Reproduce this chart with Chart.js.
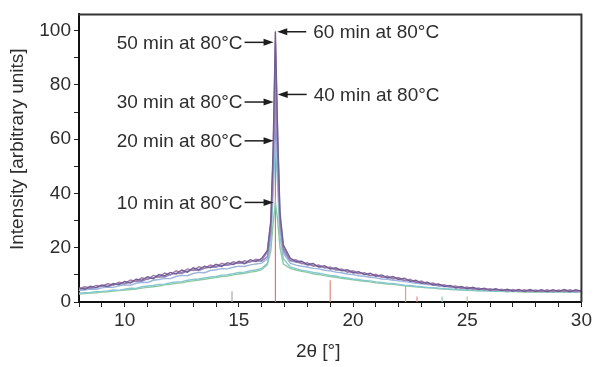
<!DOCTYPE html>
<html>
<head>
<meta charset="utf-8">
<script src="https://cdn.jsdelivr.net/npm/chart.js@4"></script>
<style>
  html, body { margin: 0; padding: 0; background: #fff; }
  #wrap { width: 594px; height: 367px; position: relative; }
</style>
</head>
<body>
<div id="wrap"><canvas id="xrd"></canvas></div>
<script>
// 2-theta grid (deg)
const twoTheta = [
  8.00, 8.25, 8.50, 8.75, 9.00, 9.25, 9.50, 9.75, 10.00, 10.25, 10.50, 10.75, 11.00, 11.25, 11.50, 11.75,
  12.00, 12.25, 12.50, 12.75, 13.00, 13.25, 13.50, 13.75, 14.00, 14.25, 14.50, 14.75, 15.00, 15.25, 15.50, 15.75,
  16.00, 16.25,
  16.40, 16.50, 16.60, 16.70, 16.80, 16.95,
  17.25, 17.50, 17.75, 18.00, 18.25, 18.50, 18.75, 19.00, 19.25, 19.50, 19.75, 20.00, 20.25, 20.50, 20.75, 21.00,
  21.25, 21.50, 21.75, 22.00, 22.25, 22.50, 22.75, 23.00, 23.25, 23.50, 23.75, 24.00, 24.25, 24.50, 24.75, 25.00,
  25.25, 25.50, 25.75, 26.00, 26.25, 26.50, 26.75, 27.00, 27.25, 27.50, 27.75, 28.00, 28.25, 28.50, 28.75, 29.00,
  29.25, 29.50, 29.75, 30.00
];

const min10 = [
  2.9, 3.1, 3.3, 3.4, 3.7, 3.8, 4.0, 4.2, 4.4, 4.6, 4.8, 5.1, 5.4, 5.6, 5.9, 6.3,
  6.5, 6.9, 7.1, 7.5, 7.8, 8.1, 8.4, 8.7, 9.0, 9.4, 9.6, 10.0, 10.3, 10.6, 11.0, 11.3, 11.9, 13.8,
  19, 29, 36.7, 30, 20, 14,
  12.4, 11.8, 11.3, 10.9, 10.4, 10.1, 9.7, 9.4, 9.1, 8.7, 8.5, 8.2, 7.9, 7.6, 7.4, 7.1,
  6.9, 6.6, 6.5, 6.2, 6.0, 5.8, 5.6, 5.4, 5.2, 5.1, 4.9, 4.8, 4.6, 4.5, 4.4, 4.3,
  4.2, 4.1, 4.1, 4.0, 3.9, 3.9, 3.8, 3.9, 3.8, 3.7, 3.8, 3.7, 3.8, 3.7, 3.7, 3.8, 3.6, 3.7, 3.7, 3.8
];
const min20 = [
  3.2, 3.4, 3.5, 3.8, 3.9, 4.1, 4.4, 4.3, 4.7, 5.1, 5.0, 5.6, 5.9, 6.1, 6.5, 6.6,
  7.1, 7.4, 7.5, 8.0, 8.3, 8.5, 8.9, 9.2, 9.4, 9.9, 10.1, 10.4, 10.9, 11.0, 11.5, 11.8, 12.4, 14.3,
  22, 40, 59.4, 42, 24, 16,
  12.9, 12.3, 11.7, 11.4, 10.9, 10.6, 10.2, 9.8, 9.6, 9.1, 8.9, 8.5, 8.3, 7.9, 7.8, 7.4,
  7.2, 6.9, 6.8, 6.5, 6.2, 6.1, 5.8, 5.6, 5.4, 5.3, 5.1, 4.9, 4.8, 4.7, 4.5, 4.4,
  4.4, 4.2, 4.2, 4.1, 4.0, 4.1, 3.9, 4.0, 3.9, 3.9, 3.8, 3.9, 3.8, 3.9, 3.7, 3.9, 3.8, 3.8, 3.7, 3.9
];
const min30 = [
  4.2, 4.4, 4.8, 4.7, 5.2, 5.5, 5.4, 6.0, 6.3, 6.2, 6.9, 7.3, 7.2, 8.0, 8.3, 8.7,
  8.6, 9.4, 9.8, 9.7, 10.5, 10.9, 10.8, 11.6, 11.9, 12.3, 12.2, 12.8, 13.2, 13.1, 13.7, 14.0, 14.3, 16.0,
  25, 47, 73.7, 50, 27, 18,
  14.3, 13.6, 13.2, 12.9, 12.4, 12.2, 11.7, 11.5, 11.0, 10.8, 10.3, 10.1, 9.7, 9.5, 9.1, 8.9,
  8.5, 8.4, 8.0, 7.8, 7.5, 7.3, 6.9, 6.7, 6.4, 6.2, 5.9, 5.7, 5.5, 5.3, 5.1, 5.0,
  4.8, 4.7, 4.6, 4.5, 4.4, 4.3, 4.3, 4.2, 4.1, 4.2, 4.0, 4.1, 4.0, 3.9, 4.1, 3.9, 4.0, 4.0, 3.8, 4.0
];
const min40 = [
  4.6, 5.1, 5.0, 5.3, 5.9, 5.7, 6.2, 6.8, 6.6, 7.3, 7.7, 7.6, 8.5, 8.9, 9.3, 9.2,
  10.1, 10.6, 10.5, 11.4, 11.8, 11.6, 12.4, 12.9, 12.8, 13.6, 13.5, 14.0, 14.4, 14.1, 14.9, 15.2, 15.0, 16.8,
  26, 50, 76.5, 52, 29, 19,
  15.2, 14.7, 14.3, 13.6, 13.6, 13.0, 12.8, 12.5, 11.9, 11.7, 11.4, 10.8, 10.7, 10.3, 9.8, 9.7,
  9.3, 8.9, 8.8, 8.4, 8.0, 7.9, 7.4, 7.1, 6.9, 6.5, 6.3, 6.0, 5.8, 5.6, 5.3, 5.2,
  5.0, 4.9, 4.7, 4.6, 4.6, 4.4, 4.3, 4.3, 4.1, 4.2, 4.2, 4.0, 4.1, 4.1, 3.9, 4.1, 4.0, 4.2, 4.0, 4.0
];
const min50 = [
  4.9, 5.6, 5.2, 6.1, 5.8, 6.7, 6.3, 7.3, 6.9, 8.1, 7.6, 8.9, 8.3, 9.8, 9.2, 10.7,
  10.0, 11.5, 10.8, 12.2, 11.6, 13.0, 12.4, 13.6, 13.0, 14.3, 13.6, 14.8, 14.2, 15.2, 14.7, 15.8, 15.3, 18.5,
  29, 54, 95.7, 60, 31, 20,
  15.4, 15.6, 14.1, 14.5, 13.2, 13.6, 12.5, 12.9, 11.8, 12.2, 11.0, 11.5, 10.4, 10.8, 9.7, 10.2,
  9.1, 9.6, 8.5, 9.0, 7.9, 8.4, 7.2, 7.7, 6.6, 7.0, 6.0, 6.4, 5.5, 5.9, 5.0, 5.5,
  4.7, 5.2, 4.4, 4.9, 4.2, 4.7, 4.0, 4.6, 3.9, 4.5, 3.9, 4.4, 3.8, 4.5, 3.8, 4.4, 3.9, 4.5, 3.8, 4.3
];
const min60 = [
  5.2, 4.7, 5.8, 5.3, 6.3, 5.7, 6.8, 6.4, 7.6, 7.0, 8.4, 8.0, 9.3, 8.6, 10.1, 9.6,
  10.9, 10.3, 11.8, 11.0, 12.6, 11.9, 13.2, 12.6, 13.9, 13.1, 14.5, 13.8, 15.0, 14.2, 15.6, 14.9, 16.1, 19,
  30, 56, 99.5, 62, 33, 21,
  16.2, 14.9, 15.0, 13.8, 14.2, 12.9, 13.4, 12.2, 12.6, 11.5, 11.9, 10.8, 11.2, 10.1, 10.6, 9.5,
  10.0, 8.9, 9.4, 8.3, 8.8, 7.6, 8.0, 6.9, 7.3, 6.3, 6.6, 5.7, 6.1, 5.2, 5.7, 4.9,
  5.4, 4.6, 5.1, 4.3, 4.9, 4.2, 4.7, 4.0, 4.6, 3.9, 4.6, 3.9, 4.5, 3.8, 4.5, 3.9, 4.6, 3.8, 4.5, 4.0
];

const seriesNames = ['10 min', '20 min', '30 min', '40 min', '50 min', '60 min'];
const seriesValues = [min10, min20, min30, min40, min50, min60];
const seriesColors = ['#8cc9a0', '#86c8d2', '#9db4dc', '#8e8fc8', '#a57aa8', '#6f5f95'];

// reference pattern sticks
const stickPos = [14.7, 16.6, 19.0, 22.3, 22.8, 23.9, 25.0];
const stickHeight = [4, 100, 8, 6, 2, 2, 2];
const stickColors = ['#a8a8a8', '#e57070', '#e08a80', '#e0a078', '#e09090', '#90c8a8', '#b0c890'];

// labels with arrows
const annoText = ['50 min at 80°C', '30 min at 80°C', '20 min at 80°C', '10 min at 80°C', '60 min at 80°C', '40 min at 80°C'];
const annoX = [16.52, 16.52, 16.52, 16.52, 16.68, 16.7];
const annoY = [95.7, 73.7, 59.4, 36.7, 99.6, 76.5];
const annoSide = ['left', 'left', 'left', 'left', 'right', 'right'];

const FONT = '"Liberation Sans", Arial, sans-serif';
const TXT = '#2e2e2e';

const datasets = seriesValues.map((vals, i) => ({
  label: seriesNames[i],
  data: twoTheta.map((t, j) => ({ x: t, y: vals[j] })),
  borderColor: seriesColors[i],
  borderWidth: 1.4,
  pointRadius: 0,
  tension: 0
})).reverse();

const stickData = [];
stickPos.forEach((p, i) => {
  stickData.push({ x: p, y: 0 }, { x: p, y: stickHeight[i] }, { x: p, y: null });
});
datasets.push({
  label: 'reference',
  data: stickData,
  borderWidth: 1.2,
  pointRadius: 0,
  spanGaps: false,
  borderColor: stickColors[1],
  segment: { borderColor: c => stickColors[Math.floor(c.p0DataIndex / 3)] }
});

const overlay = {
  id: 'overlay',
  afterDraw(chart) {
    const { ctx, chartArea: a, scales: { x, y } } = chart;
    ctx.save();
    ctx.strokeStyle = '#333';
    ctx.lineWidth = 2;
    ctx.beginPath();
    ctx.moveTo(a.left - 1, a.top);
    ctx.lineTo(a.right, a.top);
    ctx.lineTo(a.right, a.bottom);
    ctx.stroke();

    ctx.font = '19px ' + FONT;
    ctx.textBaseline = 'middle';
    annoText.forEach((t, i) => {
      const px = x.getPixelForValue(annoX[i]);
      const py = y.getPixelForValue(annoY[i]);
      const dir = annoSide[i] === 'left' ? -1 : 1;
      const tail = px + dir * 29;
      ctx.strokeStyle = '#1e1e1e';
      ctx.fillStyle = '#1e1e1e';
      ctx.lineWidth = 1.5;
      ctx.beginPath();
      ctx.moveTo(tail, py);
      ctx.lineTo(px + dir * 8, py);
      ctx.stroke();
      ctx.beginPath();
      ctx.moveTo(px, py);
      ctx.lineTo(px + dir * 10, py - 3.5);
      ctx.lineTo(px + dir * 10, py + 3.5);
      ctx.closePath();
      ctx.fill();
      ctx.fillStyle = TXT;
      ctx.textAlign = dir < 0 ? 'right' : 'left';
      ctx.fillText(t, tail + dir * (dir < 0 ? 2 : 7), py + 1);
    });

    // axis titles
    ctx.textAlign = 'center';
    ctx.fillText('2θ [°]', (a.left + a.right) / 2 - 12, 352);
    ctx.translate(18, (a.top + a.bottom) / 2 - 9);
    ctx.rotate(-Math.PI / 2);
    ctx.fillText('Intensity [arbitrary units]', 0, 0);
    ctx.restore();
  }
};

new Chart(document.getElementById('xrd'), {
  type: 'line',
  data: { datasets },
  options: {
    responsive: true,
    maintainAspectRatio: false,
    animation: false,
    events: [],
    layout: { padding: { left: 0, right: 8, top: 4, bottom: 0 } },
    plugins: { legend: { display: false }, tooltip: { enabled: false } },
    scales: {
      x: {
        type: 'linear',
        min: 8, max: 30,
        border: { color: '#111', width: 2 },
        grid: { drawOnChartArea: false, tickLength: 5, tickColor: '#222', tickWidth: 1 },
        ticks: {
          stepSize: 1,
          padding: 2,
          color: TXT,
          font: { size: 19, family: FONT },
          maxRotation: 0,
          autoSkip: false,
          callback: v => (v % 5 === 0 ? v : '')
        },
        afterFit: s => { s.height = 65; }
      },
      y: {
        min: 0, max: 106,
        border: { color: '#111', width: 2 },
        grid: { drawOnChartArea: false, tickLength: 5, tickColor: '#222', tickWidth: 1 },
        ticks: {
          stepSize: 10,
          includeBounds: false,
          padding: 3,
          color: TXT,
          font: { size: 19, family: FONT },
          callback: v => (v % 20 === 0 ? v : '')
        },
        afterFit: s => { s.width = 79; }
      }
    }
  },
  plugins: [overlay]
});
</script>
</body>
</html>
